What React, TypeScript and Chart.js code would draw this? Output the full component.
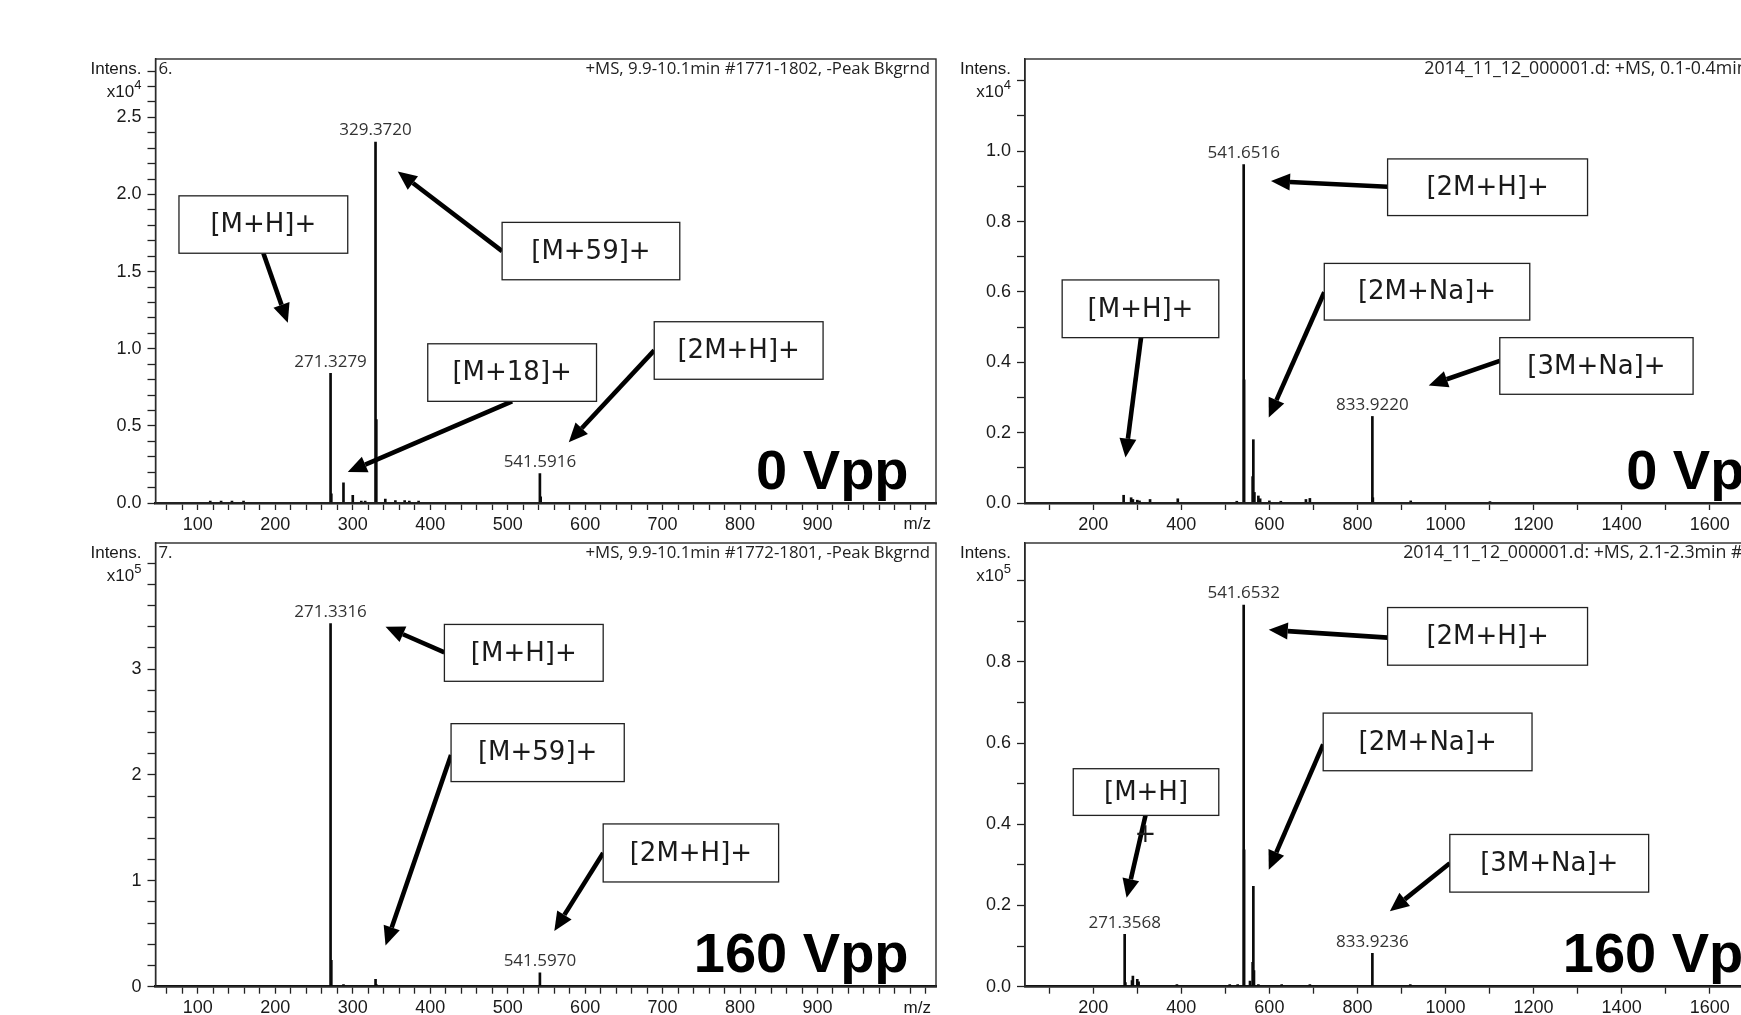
import React, { useEffect, useRef } from 'react';
import { Chart, registerables } from 'chart.js';

Chart.register(...registerables);

// ---------------- Spectra (m/z, intensity in displayed axis units) ----------------
// Top-left: 0 Vpp, intensity x10^4
const mz0VppA = [116, 130, 144, 159, 271.33, 272.3, 288, 300, 311, 316, 329.37, 330.4, 342, 355, 367, 373, 385, 541.59, 542.6];
const int0VppA = [0.012, 0.012, 0.012, 0.012, 0.84, 0.06, 0.13, 0.05, 0.012, 0.012, 2.34, 0.54, 0.025, 0.015, 0.015, 0.012, 0.012, 0.19, 0.04];
// Bottom-left: 160 Vpp, intensity x10^5
const mz160VppA = [271.33, 272.3, 288, 329.4, 330.4, 541.6];
const int160VppA = [3.43, 0.25, 0.02, 0.07, 0.02, 0.13];
// Top-right: 0 Vpp, intensity x10^4
const mz0VppB = [269, 286, 290, 300, 305, 329, 392, 526, 541.65, 542.65, 562, 563.6, 566, 575, 579, 600, 626, 683, 692, 833.92, 835, 921, 1101];
const int0VppB = [0.022, 0.015, 0.01, 0.008, 0.006, 0.01, 0.012, 0.005, 0.962, 0.35, 0.075, 0.18, 0.03, 0.02, 0.012, 0.006, 0.005, 0.01, 0.013, 0.246, 0.015, 0.006, 0.004];
// Bottom-right: 160 Vpp, intensity x10^5
const mz160VppB = [271.36, 273, 288, 290, 300, 303, 390, 510, 528, 541.65, 542.65, 556, 562, 563.6, 565, 575, 628, 692, 833.92, 920];
const int160VppB = [0.129, 0.01, 0.015, 0.026, 0.018, 0.012, 0.005, 0.005, 0.005, 0.94, 0.337, 0.014, 0.06, 0.247, 0.04, 0.005, 0.005, 0.005, 0.082, 0.005];

// Peak labels
const peakLabels0VppA = ['271.3279', '329.3720', '541.5916'];
const peakLabels160VppA = ['271.3316', '541.5970'];
const peakLabels0VppB = ['541.6516', '833.9220'];
const peakLabels160VppB = ['271.3568', '541.6532', '833.9236'];

// Tick labels
const xTickLabelsLeft = ['100', '200', '300', '400', '500', '600', '700', '800', '900'];
const xTickLabelsRight = ['200', '400', '600', '800', '1000', '1200', '1400', '1600'];
const yTickLabels0VppA = ['0.0', '0.5', '1.0', '1.5', '2.0', '2.5'];
const yTickLabels160VppA = ['0', '1', '2', '3'];
const yTickLabels0VppB = ['0.0', '0.2', '0.4', '0.6', '0.8', '1.0'];
const yTickLabels160VppB = ['0.0', '0.2', '0.4', '0.6', '0.8'];

// Headers
const header0VppA = '+MS, 9.9-10.1min #1771-1802, -Peak Bkgrnd';
const header160VppA = '+MS, 9.9-10.1min #1772-1801, -Peak Bkgrnd';
const header0VppB = '2014_11_12_000001.d: +MS, 0.1-0.4min';
const header160VppB = '2014_11_12_000001.d: +MS, 2.1-2.3min #3';

// ---------------- Layout / style ----------------
const W = 1900;
const H = 1015;
const Y_AXIS_W = 70;
const X_AXIS_H = 28;
const TICK_FONT = "'Liberation Sans', Arial, sans-serif";
const LABEL_FONT = "'Open Sans', 'Noto Sans', sans-serif";
const BOX_FONT = "'DejaVu Sans', 'Noto Sans', sans-serif";
const BIG_FONT = "'Liberation Sans', Arial, sans-serif";

type Box = {
  text: string;
  x0: number; x1: number; y0: number; y1: number;
  from: [number, number]; to: [number, number];
  extra?: { text: string; x: number; y: number };
};

type PanelCfg = {
  frame: { left: number; top: number; right: number; bottom: number };
  xMin: number; xMax: number; xStep: number; xLabels: string[];
  yMax: number; yStep: number; yLabels: string[];
  mz: number[]; inten: number[];
  peakLabels: string[];
  exp: string;
  tag?: string;
  header: string;
  headerSize: number;
  headerMz?: number;
  boxes: Box[];
  big: { text: string; x: number; y: number };
};

const panels: PanelCfg[] = [
  {
    frame: { left: 155.5, top: 59, right: 936, bottom: 503 },
    xMin: 45.3, xMax: 1053, xStep: 20, xLabels: xTickLabelsLeft,
    yMax: 2.878, yStep: 0.1, yLabels: yTickLabels0VppA,
    mz: mz0VppA, inten: int0VppA, peakLabels: peakLabels0VppA,
    exp: '4', tag: '6.', header: header0VppA, headerSize: 16.8,
    boxes: [
      { text: '[M+H]+', x0: 75.6, x1: 293.5, y0: 1.991, y1: 1.619, from: [184.6, 1.619], to: [216.1, 1.168] },
      { text: '[M+59]+', x0: 492.8, x1: 722.2, y0: 1.819, y1: 1.447, from: [492.8, 1.633], to: [358.1, 2.149] },
      { text: '[M+18]+', x0: 396.8, x1: 614.7, y0: 1.032, y1: 0.659, from: [505.7, 0.659], to: [293.5, 0.2006] },
      { text: '[2M+H]+', x0: 689.2, x1: 907.2, y0: 1.175, y1: 0.802, from: [689.2, 0.989], to: [578.9, 0.394] },
    ],
    big: { text: '0 Vpp', x: 1017.6, y: 0.093 },
  },
  {
    frame: { left: 155.5, top: 543, right: 936, bottom: 986.7 },
    xMin: 45.3, xMax: 1053, xStep: 20, xLabels: xTickLabelsLeft,
    yMax: 4.19, yStep: 0.2, yLabels: yTickLabels160VppA,
    mz: mz160VppA, inten: int160VppA, peakLabels: peakLabels160VppA,
    exp: '5', tag: '7.', header: header160VppA, headerSize: 16.8,
    boxes: [
      { text: '[M+H]+', x0: 418.3, x1: 623.3, y0: 3.421, y1: 2.884, from: [418.3, 3.158], to: [342.3, 3.4] },
      { text: '[M+59]+', x0: 426.9, x1: 650.5, y0: 2.484, y1: 1.937, from: [426.9, 2.189], to: [342.3, 0.389] },
      { text: '[2M+H]+', x0: 623.3, x1: 849.8, y0: 1.537, y1: 0.989, from: [623.3, 1.263], to: [560.2, 0.526] },
    ],
    big: { text: '160 Vpp', x: 1017.6, y: 0.137 },
  },
  {
    frame: { left: 1025, top: 59, right: 1807, bottom: 503 },
    xMin: 45, xMax: 1821, xStep: 100, xLabels: xTickLabelsRight,
    yMax: 1.262, yStep: 0.1, yLabels: yTickLabels0VppB,
    mz: mz0VppB, inten: int0VppB, peakLabels: peakLabels0VppB,
    exp: '4', header: header0VppB, headerSize: 17.8, headerMz: 951.8,
    boxes: [
      { text: '[2M+H]+', x0: 868.5, x1: 1322.6, y0: 0.978, y1: 0.817, from: [868.5, 0.899], to: [603.6, 0.915] },
      { text: '[2M+Na]+', x0: 724.7, x1: 1191.4, y0: 0.681, y1: 0.52, from: [724.7, 0.599], to: [598.6, 0.243] },
      { text: '[M+H]+', x0: 129.4, x1: 485.1, y0: 0.634, y1: 0.47, from: [308.5, 0.47], to: [273.2, 0.129] },
      { text: '[3M+Na]+', x0: 1123.3, x1: 1562.3, y0: 0.47, y1: 0.309, from: [1123.3, 0.404], to: [961.9, 0.334] },
    ],
    big: { text: '0 Vpp', x: 1756.5, y: 0.041 },
  },
  {
    frame: { left: 1025, top: 543, right: 1807, bottom: 986.7 },
    xMin: 45, xMax: 1821, xStep: 100, xLabels: xTickLabelsRight,
    yMax: 1.093, yStep: 0.1, yLabels: yTickLabels160VppB,
    mz: mz160VppB, inten: int160VppB, peakLabels: peakLabels160VppB,
    exp: '5', header: header160VppB, headerSize: 17.8, headerMz: 903.8,
    boxes: [
      { text: '[2M+H]+', x0: 868.5, x1: 1322.6, y0: 0.934, y1: 0.792, from: [868.5, 0.86], to: [598.6, 0.879] },
      { text: '[2M+Na]+', x0: 722.2, x1: 1196.5, y0: 0.674, y1: 0.532, from: [722.2, 0.597], to: [598.6, 0.288] },
      { text: '[M+H]', x0: 154.6, x1: 485.1, y0: 0.537, y1: 0.422, from: [318.6, 0.422], to: [275.7, 0.219], extra: { text: '+', x: 318.6, y: 0.373 } },
      { text: '[3M+Na]+', x0: 1009.8, x1: 1461.4, y0: 0.375, y1: 0.233, from: [1009.8, 0.304], to: [873.6, 0.186] },
    ],
    big: { text: '160 Vpp', x: 1754, y: 0.036 },
  },
];

function stepTicks(min: number, max: number, step: number): number[] {
  const out: number[] = [];
  const start = Math.ceil(min / step - 1e-9);
  const end = Math.floor(max / step + 1e-9);
  for (let k = start; k <= end; k++) out.push(Math.round(k * step * 1000) / 1000);
  return out;
}

function labelFor(labels: string[], v: number): string {
  for (const l of labels) if (Math.abs(Number(l) - v) < 1e-6) return l;
  return '';
}

function drawArrow(ctx: CanvasRenderingContext2D, x0: number, y0: number, x1: number, y1: number) {
  const lw = 4.6, headLen = 19, headW = 17;
  const ang = Math.atan2(y1 - y0, x1 - x0);
  const bx = x1 - headLen * Math.cos(ang);
  const by = y1 - headLen * Math.sin(ang);
  ctx.lineWidth = lw;
  ctx.lineCap = 'butt';
  ctx.beginPath();
  ctx.moveTo(x0, y0);
  ctx.lineTo(bx, by);
  ctx.stroke();
  ctx.beginPath();
  ctx.moveTo(x1, y1);
  ctx.lineTo(bx + (headW / 2) * Math.sin(ang), by - (headW / 2) * Math.cos(ang));
  ctx.lineTo(bx - (headW / 2) * Math.sin(ang), by + (headW / 2) * Math.cos(ang));
  ctx.closePath();
  ctx.fill();
}

function makeOverlay(p: PanelCfg) {
  return {
    id: 'overlay',
    afterDraw(chart: any) {
      const { ctx, chartArea: a } = chart;
      const xs = chart.scales.x;
      const ys = chart.scales.y;
      ctx.save();
      // frame
      ctx.strokeStyle = '#2a2a2a';
      ctx.lineWidth = 1.4;
      ctx.strokeRect(a.left, a.top, a.right - a.left, a.bottom - a.top);

      // Intens. / x10^n
      ctx.fillStyle = '#1a1a1a';
      ctx.textBaseline = 'middle';
      ctx.textAlign = 'right';
      ctx.font = `17px ${TICK_FONT}`;
      ctx.fillText('Intens.', a.left - 14, a.top + 10);
      ctx.font = `13px ${TICK_FONT}`;
      const ew = ctx.measureText(p.exp).width;
      ctx.fillText(p.exp, a.left - 14, a.top + 26);
      ctx.font = `17px ${TICK_FONT}`;
      ctx.fillText('x10', a.left - 14 - ew, a.top + 33);

      // m/z
      ctx.textBaseline = 'top';
      ctx.textAlign = 'right';
      ctx.fillText('m/z', a.right - 5, a.bottom + 13);

      // header
      ctx.font = `${p.headerSize}px ${LABEL_FONT}`;
      ctx.fillStyle = '#222';
      ctx.textBaseline = 'middle';
      if (p.tag) {
        ctx.textAlign = 'left';
        ctx.fillText(p.tag, a.left + 3, a.top + 10);
      }
      if (p.headerMz !== undefined) {
        ctx.textAlign = 'left';
        ctx.fillText(p.header, xs.getPixelForValue(p.headerMz), a.top + 10);
      } else {
        ctx.textAlign = 'right';
        ctx.fillText(p.header, a.right - 6, a.top + 10);
      }

      // peak labels
      ctx.font = `17px ${LABEL_FONT}`;
      ctx.fillStyle = '#333';
      ctx.textAlign = 'center';
      ctx.textBaseline = 'bottom';
      for (const lbl of p.peakLabels) {
        const v = Number(lbl);
        let best = 0;
        for (let i = 1; i < p.mz.length; i++) if (Math.abs(p.mz[i] - v) < Math.abs(p.mz[best] - v)) best = i;
        ctx.fillText(lbl, xs.getPixelForValue(v), ys.getPixelForValue(p.inten[best]) - 3);
      }

      // arrows
      ctx.strokeStyle = '#000';
      ctx.fillStyle = '#000';
      for (const b of p.boxes) {
        drawArrow(ctx, xs.getPixelForValue(b.from[0]), ys.getPixelForValue(b.from[1]),
          xs.getPixelForValue(b.to[0]), ys.getPixelForValue(b.to[1]));
      }
      // boxes
      for (const b of p.boxes) {
        const x0 = xs.getPixelForValue(b.x0), x1 = xs.getPixelForValue(b.x1);
        const y0 = ys.getPixelForValue(b.y0), y1 = ys.getPixelForValue(b.y1);
        ctx.fillStyle = '#fff';
        ctx.fillRect(x0, y0, x1 - x0, y1 - y0);
        ctx.strokeStyle = '#222';
        ctx.lineWidth = 1.3;
        ctx.strokeRect(x0, y0, x1 - x0, y1 - y0);
        ctx.fillStyle = '#1a1a1a';
        ctx.font = `26px ${BOX_FONT}`;
        ctx.textAlign = 'center';
        ctx.textBaseline = 'middle';
        ctx.fillText(b.text, (x0 + x1) / 2, (y0 + y1) / 2 + 1);
        if (b.extra) ctx.fillText(b.extra.text, xs.getPixelForValue(b.extra.x), ys.getPixelForValue(b.extra.y));
      }

      // big label
      ctx.fillStyle = '#000';
      ctx.font = `bold 56px ${BIG_FONT}`;
      ctx.textAlign = 'right';
      ctx.textBaseline = 'alphabetic';
      ctx.fillText(p.big.text, xs.getPixelForValue(p.big.x), ys.getPixelForValue(p.big.y));
      ctx.restore();
    },
  };
}

function Panel({ p }: { p: PanelCfg }) {
  const ref = useRef<HTMLCanvasElement | null>(null);
  useEffect(() => {
    if (!ref.current) return;
    const f = p.frame;
    const xTicks = stepTicks(p.xMin, p.xMax, p.xStep);
    const yTicks = stepTicks(0, p.yMax, p.yStep);
    const chart = new Chart(ref.current, {
      type: 'bar',
      data: {
        datasets: [{
          data: p.mz.map((m, i) => ({ x: m, y: p.inten[i] })),
          backgroundColor: '#0a0a0a',
          borderWidth: 0,
          barThickness: 2,
          grouped: false,
        } as any],
      },
      options: {
        responsive: false,
        animation: false,
        events: [],
        layout: {
          padding: {
            left: f.left - Y_AXIS_W,
            top: f.top,
            right: W - f.right,
            bottom: Math.max(0, H - f.bottom - X_AXIS_H),
          },
        },
        plugins: { legend: { display: false }, tooltip: { enabled: false } },
        scales: {
          x: {
            type: 'linear', min: p.xMin, max: p.xMax, offset: false,
            afterFit: (s: any) => { s.height = Math.min(X_AXIS_H, H - f.bottom); },
            afterBuildTicks: (s: any) => { s.ticks = xTicks.map((v) => ({ value: v })); },
            ticks: {
              autoSkip: false, maxRotation: 0, minRotation: 0, padding: 4,
              color: '#1a1a1a', font: { family: TICK_FONT, size: 18 },
              callback: (v: any) => labelFor(p.xLabels, Number(v)),
            },
            grid: { offset: false, drawOnChartArea: false, drawTicks: true, tickLength: 7, tickWidth: 1.3, tickColor: '#222' },
            border: { display: true, width: 2.6, color: '#111' },
          },
          y: {
            type: 'linear', min: 0, max: p.yMax,
            afterFit: (s: any) => { s.width = Y_AXIS_W; },
            afterBuildTicks: (s: any) => { s.ticks = yTicks.map((v) => ({ value: v })); },
            ticks: {
              autoSkip: false, padding: 6,
              color: '#1a1a1a', font: { family: TICK_FONT, size: 18 },
              callback: (v: any) => labelFor(p.yLabels, Number(v)),
            },
            grid: { drawOnChartArea: false, drawTicks: true, tickLength: 8, tickWidth: 1.3, tickColor: '#222' },
            border: { display: true, width: 1.4, color: '#222' },
          },
        },
      } as any,
      plugins: [makeOverlay(p)],
    });
    return () => chart.destroy();
  }, [p]);
  return (
    <canvas ref={ref} width={W} height={H}
      style={{ position: 'absolute', left: 0, top: 0, width: W, height: H }} />
  );
}

export default function App() {
  return (
    <div style={{ position: 'fixed', left: 0, top: 0, width: 1741, height: 1015, overflow: 'hidden', background: '#fff' }}>
      {panels.map((p, i) => <Panel key={i} p={p} />)}
    </div>
  );
}
